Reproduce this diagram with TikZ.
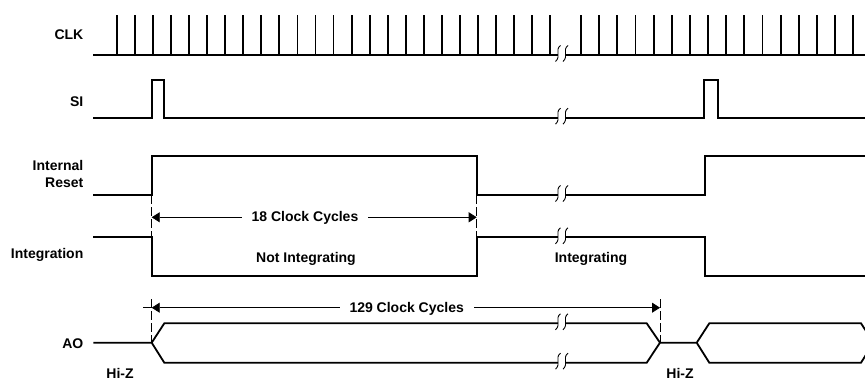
\documentclass[tikz,border=0pt]{standalone}
\usepackage{fontspec}
\setmainfont{Liberation Sans}
\usetikzlibrary{arrows.meta}

% break mark on a signal line at height #1
\newcommand{\brkmark}[1]{%
  \foreach \bx in {558,565.5}
    \draw[line width=0.9pt] (\bx+2.5,#1-9.5) .. controls (\bx-3.5,#1-5) and (\bx+3.5,#1+1) .. (\bx-2.5,#1+6.5);}

\begin{document}
\begin{tikzpicture}[x=1pt,y=-1pt,
    sigline/.style={line width=1.8pt},
    dimline/.style={line width=0.8pt,{Triangle[length=8pt,width=10pt]}-{Triangle[length=8pt,width=10pt]}},
    guide/.style={line width=0.8pt,dash pattern=on 9pt off 3pt},
    lbl/.style={font=\fontsize{14}{16}\selectfont\bfseries,inner sep=0pt}]
  \useasboundingbox (0,0) rectangle (865,381);
  \clip (0,0) rectangle (865,381);

  % signal names
  \node[lbl,anchor=base east] (clk) at (83.5,39.3) {CLK};
  \node[lbl,anchor=base east] (si) at (83.5,106.7) {SI};
  \node[lbl,anchor=base east] (ir1) at (83.5,170.7) {Internal};
  \node[lbl,anchor=base east] (ir2) at (83.5,187.3) {Reset};
  \node[lbl,anchor=base east] (integ) at (83.5,258.3) {Integration};
  \node[lbl,anchor=base east] (ao) at (83.5,348.3) {AO};

  % CLK
  \draw[sigline] (93.3,55) -- (558,55) (565.5,55) -- (865,55);
  \foreach \k in {0,...,24}
    \draw[sigline] ({116.7+18.07*\k},55) -- ++(0,-40);
  \foreach \k in {0,...,15}
    \draw[sigline] ({581+18.15*\k},55) -- ++(0,-40);
  \brkmark{55}

  % SI
  \draw[sigline] (93.3,117.7) -- (151.7,117.7) -- (151.7,80) -- (164.3,80) -- (164.3,117.7) -- (558,117.7);
  \draw[sigline] (565.5,117.7) -- (704.3,117.7) -- (704.3,80) -- (718.3,80) -- (718.3,117.7) -- (865,117.7);
  \brkmark{117.7}

  % internal reset
  \draw[sigline] (93.3,195) -- (151.7,195) -- (151.7,155.7) -- (476.7,155.7) -- (476.7,195) -- (558,195);
  \draw[sigline] (565.5,195) -- (705,195) -- (705,155.7) -- (865,155.7);
  \brkmark{195}

  % integration
  \draw[sigline] (93.3,237.3) -- (151.7,237.3) -- (151.7,276) -- (476.7,276) -- (476.7,237.3) -- (558,237.3);
  \draw[sigline] (565.5,237.3) -- (705,237.3) -- (705,276) -- (865,276);
  \brkmark{237.3}

  % AO
  \draw[sigline] (93.3,342.7) -- (151.7,342.7) -- (164.3,323.3) -- (558,323.3)
    (151.7,342.7) -- (164.3,362.7) -- (558,362.7);
  \draw[sigline] (565.5,323.3) -- (646.7,323.3) -- (660,342.7) -- (696.7,342.7) -- (709.3,323.3) -- (861,323.3) -- (873.6,342.7)
    (565.5,362.7) -- (646.7,362.7) -- (660,342.7)
    (696.7,342.7) -- (709.3,362.7) -- (861,362.7) -- (873.6,342.7);
  \brkmark{323.3}
  \brkmark{362.7}

  % guide lines
  \draw[guide] (151.7,195) -- (151.7,237.3);
  \draw[guide] (476.7,195) -- (476.7,237.3);
  \draw[guide] (151.7,299) -- (151.7,342.7);
  \draw[guide] (660,299) -- (660,342.7);

  % 18 clock cycles
  \coordinate (r18a) at (151.7,217.3);
  \coordinate (r18b) at (476.7,217.3);
  \draw[dimline] (r18a) -- (r18b);
  \node[lbl,anchor=base,fill=white,inner xsep=10pt,inner ysep=1pt] (c18) at (305,221) {18 Clock Cycles};

  % 129 clock cycles
  \coordinate (r129a) at (151.7,307.7);
  \coordinate (r129b) at (660,307.7);
  \coordinate (r129t) at (143.3,307.7);
  \draw[dimline] (r129a) -- (r129b);
  \draw[line width=0.8pt] (r129t) -- (r129a);
  \node[lbl,anchor=base,fill=white,inner xsep=10pt,inner ysep=1pt] (c129) at (406.7,312.7) {129 Clock Cycles};

  % state texts
  \node[lbl,anchor=base] (notint) at (306,262.7) {Not Integrating};
  \node[lbl,anchor=base] (isint) at (591,262.7) {Integrating};
  \node[lbl,anchor=base] (hiz1) at (120,378.5) {Hi-Z};
  \node[lbl,anchor=base] (hiz2) at (680,378.5) {Hi-Z};
\end{tikzpicture}
\end{document}
